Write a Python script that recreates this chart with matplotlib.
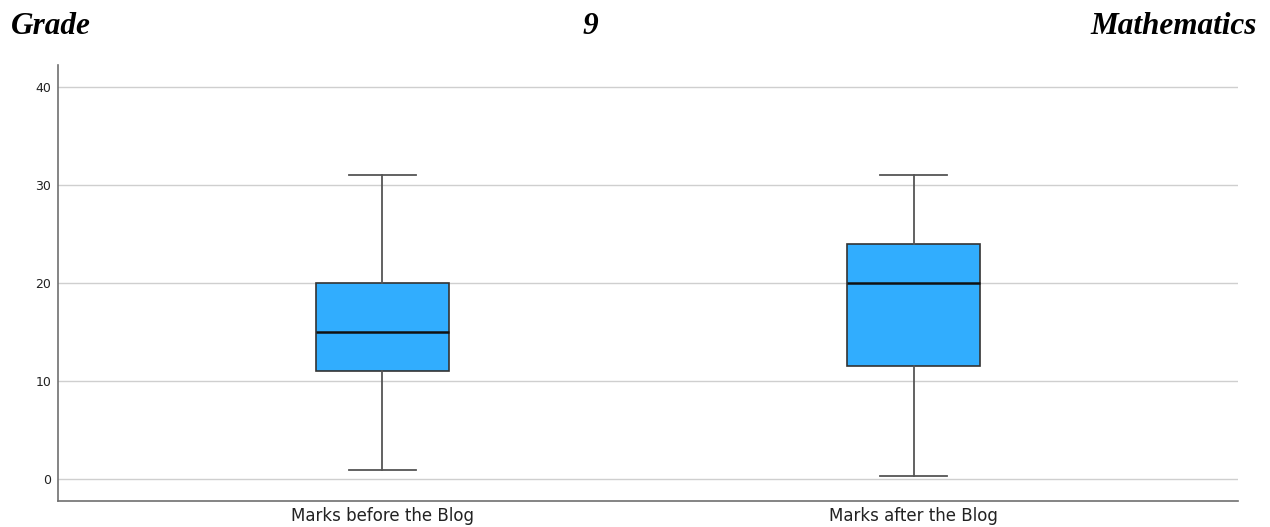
import matplotlib

matplotlib.use("Agg")
import matplotlib.pyplot as plt

# Five-number summaries of the marks, one entry per group
groups = ["Marks before the Blog", "Marks after the Blog"]
whisker_low = [1.0, 0.33]
q1 = [11.0, 11.5]
median = [15.0, 20.0]
q3 = [20.0, 24.0]
whisker_high = [31.0, 31.0]

y_ticks = [0, 10, 20, 30, 40]

BOX_COLOR = "#31adfe"
W, H, DPI = 12.7, 5.27, 100

fig = plt.figure(figsize=(W, H), dpi=DPI)
ax = fig.add_axes([58 / 1270, 1 - 501 / 527, (1238 - 58) / 1270, (501 - 65) / 527])

stats = [
    {"label": g, "whislo": lo, "q1": a, "med": m, "q3": b, "whishi": hi, "fliers": []}
    for g, lo, a, m, b, hi in zip(groups, whisker_low, q1, median, q3, whisker_high)
]
positions = [1, 2]
ax.bxp(
    stats,
    positions=positions,
    widths=0.25,
    patch_artist=True,
    showfliers=False,
    boxprops=dict(facecolor=BOX_COLOR, edgecolor="#333333", linewidth=1.2),
    medianprops=dict(color="#111111", linewidth=1.8),
    whiskerprops=dict(color="#555555", linewidth=1.3),
    capprops=dict(color="#555555", linewidth=1.3),
    zorder=3,
)

ax.set_xlim(0.389, 2.611)
ax.set_ylim(-2.2, 42.2)
ax.set_yticks(y_ticks)
ax.set_yticklabels([str(t) for t in y_ticks], fontsize=9, family="DejaVu Sans", color="#222222")
ax.set_xticks(positions)
ax.set_xticklabels(groups, fontsize=12, family="DejaVu Sans", color="#222222")
ax.tick_params(axis="x", length=0, pad=4)
ax.tick_params(axis="y", length=0, pad=5)
ax.yaxis.grid(True, color="#cfcfcf", linewidth=1.0, zorder=0)
ax.set_axisbelow(True)

for side in ("top", "right"):
    ax.spines[side].set_visible(False)
for side in ("left", "bottom"):
    ax.spines[side].set_color("#707070")
    ax.spines[side].set_linewidth(1.2)

title_font = dict(family="Liberation Serif", weight="bold", style="italic", fontsize=22.5, va="baseline")
fig.text(11 / 1270, 1 - 34 / 527, "Grade", ha="left", **title_font)
fig.text(590 / 1270, 1 - 34 / 527, "9", ha="center", **title_font)
fig.text(1257 / 1270, 1 - 34 / 527, "Mathematics", ha="right", **title_font)

fig.savefig("out.png", dpi=DPI)
plt.close(fig)
